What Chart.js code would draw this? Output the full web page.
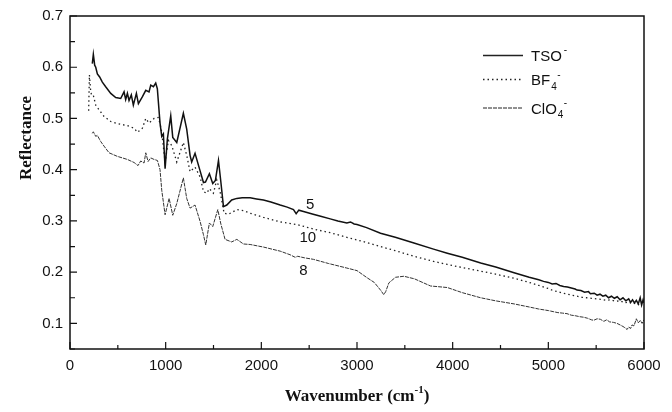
<!DOCTYPE html>
<html>
<head>
<meta charset="utf-8">
<script src="https://cdn.jsdelivr.net/npm/chart.js@4"></script>
<style>
  html, body { margin: 0; padding: 0; background: #fff; }
  #wrap { width: 672px; height: 412px; }
</style>
</head>
<body>
<div id="wrap"><canvas id="chart" width="672" height="412"></canvas></div>
<script>
// TSO- spectrum
const tsoWave = [233,244,258,269,286,310,338,373,426,478,530,565,582,600,617,641,662,694,715,756,792,826,844,872,896,913,941,959,976,994,1018,1053,1074,1116,1185,1220,1255,1272,1307,1353,1395,1416,1457,1492,1520,1552,1577,1604,1639,1690,1744,1800,1883,1950,2022,2100,2197,2270,2336,2364,2392,2450,2542,2620,2720,2800,2894,2932,2970,3000,3100,3246,3400,3595,3800,3944,4100,4293,4450,4642,4800,4900,4950,5000,5040,5080,5120,5160,5200,5240,5280,5300,5340,5380,5420,5440,5480,5510,5540,5570,5600,5630,5660,5690,5720,5750,5780,5810,5840,5860,5880,5900,5920,5940,5960,5975,5990,6000];
const tsoRefl = [0.607,0.625,0.604,0.600,0.587,0.581,0.571,0.562,0.549,0.541,0.539,0.552,0.537,0.549,0.535,0.546,0.526,0.549,0.529,0.542,0.555,0.552,0.565,0.562,0.569,0.558,0.491,0.465,0.470,0.402,0.460,0.505,0.463,0.453,0.510,0.479,0.428,0.415,0.432,0.402,0.375,0.376,0.392,0.373,0.379,0.418,0.376,0.328,0.331,0.341,0.344,0.345,0.345,0.343,0.341,0.337,0.331,0.327,0.322,0.314,0.321,0.318,0.313,0.309,0.304,0.300,0.296,0.298,0.294,0.293,0.287,0.276,0.268,0.257,0.245,0.237,0.229,0.218,0.210,0.199,0.190,0.185,0.182,0.180,0.177,0.178,0.174,0.172,0.171,0.169,0.167,0.165,0.164,0.161,0.162,0.158,0.159,0.155,0.157,0.153,0.155,0.150,0.153,0.149,0.152,0.146,0.150,0.144,0.148,0.141,0.146,0.140,0.145,0.138,0.150,0.136,0.146,0.140];

// BF4- spectrum
const bf4Wave = [195,203,215,225,244,269,303,356,426,495,600,670,705,757,792,826,879,921,941,959,994,1029,1064,1116,1185,1220,1255,1307,1360,1395,1430,1457,1499,1534,1569,1611,1656,1744,1813,1883,2022,2197,2371,2548,2720,2894,3100,3246,3400,3595,3800,3944,4100,4293,4450,4642,4800,4900,5000,5050,5100,5150,5200,5250,5300,5350,5400,5450,5500,5550,5600,5650,5700,5750,5800,5840,5880,5920,5950,5980,6000];
const bf4Refl = [0.515,0.585,0.556,0.545,0.545,0.526,0.517,0.504,0.494,0.490,0.486,0.481,0.473,0.481,0.500,0.491,0.500,0.502,0.490,0.473,0.415,0.457,0.447,0.415,0.453,0.428,0.396,0.405,0.386,0.357,0.354,0.363,0.354,0.380,0.357,0.315,0.313,0.322,0.320,0.315,0.307,0.298,0.293,0.284,0.277,0.268,0.258,0.250,0.242,0.231,0.221,0.215,0.209,0.202,0.196,0.188,0.180,0.174,0.168,0.164,0.162,0.159,0.157,0.155,0.153,0.151,0.150,0.149,0.148,0.147,0.145,0.146,0.143,0.144,0.140,0.142,0.138,0.140,0.136,0.141,0.138];

// ClO4- spectrum
const clo4Wave = [233,244,269,286,321,356,408,495,600,670,711,739,774,792,816,844,879,914,941,959,994,1036,1074,1116,1185,1220,1255,1307,1360,1395,1419,1457,1492,1545,1577,1621,1690,1744,1813,1883,2022,2197,2300,2354,2380,2450,2545,2700,2894,3000,3106,3180,3211,3250,3280,3300,3333,3403,3490,3600,3769,3944,4100,4293,4450,4642,4800,4900,5000,5050,5100,5150,5195,5240,5280,5330,5370,5410,5450,5474,5510,5544,5580,5610,5640,5680,5718,5750,5780,5805,5823,5840,5860,5875,5895,5920,5940,5962,5980,6000];
const clo4Refl = [0.471,0.474,0.465,0.467,0.455,0.446,0.433,0.426,0.420,0.414,0.408,0.417,0.413,0.433,0.416,0.423,0.420,0.418,0.400,0.360,0.312,0.344,0.311,0.334,0.384,0.344,0.325,0.331,0.299,0.273,0.253,0.296,0.289,0.322,0.294,0.264,0.259,0.264,0.255,0.254,0.249,0.241,0.234,0.229,0.231,0.228,0.225,0.217,0.208,0.203,0.189,0.180,0.173,0.164,0.156,0.162,0.179,0.190,0.192,0.187,0.173,0.170,0.160,0.150,0.144,0.138,0.132,0.128,0.125,0.123,0.121,0.120,0.119,0.116,0.115,0.113,0.112,0.110,0.107,0.106,0.109,0.108,0.104,0.107,0.103,0.102,0.100,0.097,0.094,0.091,0.088,0.093,0.090,0.097,0.095,0.109,0.101,0.106,0.100,0.107];

// axis ticks
const xTicks = [0,1000,2000,3000,4000,5000,6000];
const yTicks = [0.1,0.2,0.3,0.4,0.5,0.6,0.7];

// curve labels inside the plot
const noteText = ['5','10','8'];
const noteWave = [2510,2486,2440];
const noteRefl = [0.332,0.267,0.2025];

const tickFont = "'Liberation Sans', Arial, sans-serif";
const titleFont = "'Liberation Serif', 'Times New Roman', serif";

function toPoints(xs, ys) {
  return xs.map((x, i) => ({ x: x, y: ys[i] }));
}

// box, inward ticks, titles, legend, curve labels
const decorPlugin = {
  id: 'decor',
  afterDraw(chart) {
    const ctx = chart.ctx;
    const a = chart.chartArea;
    const xs = chart.scales.x;
    const ys = chart.scales.y;
    ctx.save();
    ctx.strokeStyle = '#111';
    ctx.lineWidth = 1.5;
    ctx.strokeRect(a.left, a.top, a.right - a.left, a.bottom - a.top);

    // inward ticks
    ctx.lineWidth = 1.2;
    ctx.beginPath();
    for (let v = 0; v <= 6000; v += 500) {
      const px = xs.getPixelForValue(v);
      const len = v % 1000 === 0 ? 7 : 4;
      ctx.moveTo(px, a.bottom);
      ctx.lineTo(px, a.bottom - len);
    }
    for (let k = 1; k <= 14; k++) {
      const v = k * 0.05;
      const py = ys.getPixelForValue(v);
      const len = k % 2 === 0 ? 7 : 5;
      ctx.moveTo(a.left, py);
      ctx.lineTo(a.left + len, py);
    }
    ctx.stroke();

    // axis titles
    ctx.fillStyle = '#111';
    ctx.font = 'bold 17px ' + titleFont;
    ctx.textBaseline = 'middle';
    ctx.textAlign = 'center';
    ctx.save();
    ctx.translate(27, 138);
    ctx.rotate(-Math.PI / 2);
    ctx.fillText('Reflectance', 0, 0);
    ctx.restore();

    const main = 'Wavenumber (cm';
    const sup = '-1';
    const tail = ')';
    ctx.font = 'bold 17px ' + titleFont;
    const w1 = ctx.measureText(main).width;
    const w3 = ctx.measureText(tail).width;
    ctx.font = 'bold 11px ' + titleFont;
    const w2 = ctx.measureText(sup).width;
    const cx = (a.left + a.right) / 2;
    let tx = cx - (w1 + w2 + w3) / 2;
    ctx.textAlign = 'left';
    ctx.textBaseline = 'alphabetic';
    ctx.font = 'bold 17px ' + titleFont;
    ctx.fillText(main, tx, 401);
    tx += w1;
    ctx.font = 'bold 11px ' + titleFont;
    ctx.fillText(sup, tx, 393);
    tx += w2;
    ctx.font = 'bold 17px ' + titleFont;
    ctx.fillText(tail, tx, 401);

    // legend
    const rows = [
      { base: 'TSO', sub: '', sup: '-', y: 55.5, dash: [], width: 1.5 },
      { base: 'BF', sub: '4', sup: '-', y: 79.5, dash: [1.5, 3], width: 1.3 },
      { base: 'ClO', sub: '4', sup: '-', y: 108, dash: [4, 1], width: 1 }
    ];
    rows.forEach(r => {
      ctx.beginPath();
      ctx.setLineDash(r.dash);
      ctx.lineWidth = r.width;
      ctx.strokeStyle = '#222';
      ctx.moveTo(483, r.y);
      ctx.lineTo(523, r.y);
      ctx.stroke();
      ctx.setLineDash([]);
      ctx.font = '15px ' + tickFont;
      ctx.textBaseline = 'alphabetic';
      let lx = 531;
      ctx.fillText(r.base, lx, r.y + 5.5);
      lx += ctx.measureText(r.base).width;
      ctx.font = '10px ' + tickFont;
      if (r.sub) {
        ctx.fillText(r.sub, lx + 1, r.y + 10);
        ctx.fillText(r.sup, lx + 7, r.y - 2);
      } else {
        ctx.fillText(r.sup, lx + 2, r.y - 3);
      }
    });

    // curve numbers
    ctx.font = '15px ' + tickFont;
    ctx.textAlign = 'center';
    ctx.textBaseline = 'middle';
    noteText.forEach((t, i) => {
      ctx.fillText(t, xs.getPixelForValue(noteWave[i]), ys.getPixelForValue(noteRefl[i]));
    });
    ctx.restore();
  }
};

const ctx = document.getElementById('chart').getContext('2d');
new Chart(ctx, {
  type: 'line',
  data: {
    datasets: [
      {
        label: 'TSO-',
        data: toPoints(tsoWave, tsoRefl),
        borderColor: '#111',
        borderWidth: 1.5,
        pointRadius: 0,
        tension: 0
      },
      {
        label: 'BF4-',
        data: toPoints(bf4Wave, bf4Refl),
        borderColor: '#222',
        borderWidth: 1.3,
        borderDash: [1.5, 3],
        pointRadius: 0,
        tension: 0
      },
      {
        label: 'ClO4-',
        data: toPoints(clo4Wave, clo4Refl),
        borderColor: '#333',
        borderWidth: 1,
        borderDash: [4, 1],
        pointRadius: 0,
        tension: 0
      }
    ]
  },
  options: {
    responsive: false,
    animation: false,
    layout: { padding: { top: 12, right: 28, left: 0, bottom: 0 } },
    plugins: {
      legend: { display: false },
      tooltip: { enabled: false }
    },
    scales: {
      x: {
        type: 'linear',
        min: 0,
        max: 6000,
        grid: { display: false, drawTicks: false },
        border: { display: false },
        afterBuildTicks(scale) {
          scale.ticks = xTicks.map(v => ({ value: v }));
        },
        afterFit(scale) { scale.height = 63; },
        ticks: {
          color: '#111',
          padding: 8,
          maxRotation: 0,
          font: { family: tickFont, size: 15 },
          callback: v => String(v)
        }
      },
      y: {
        min: 0.05,
        max: 0.7,
        grid: { display: false, drawTicks: false },
        border: { display: false },
        afterBuildTicks(scale) {
          scale.ticks = yTicks.map(v => ({ value: v }));
        },
        afterFit(scale) { scale.width = 70; },
        ticks: {
          color: '#111',
          padding: 7,
          font: { family: tickFont, size: 15 },
          callback: v => v.toFixed(1)
        }
      }
    }
  },
  plugins: [decorPlugin]
});
</script>
</body>
</html>
